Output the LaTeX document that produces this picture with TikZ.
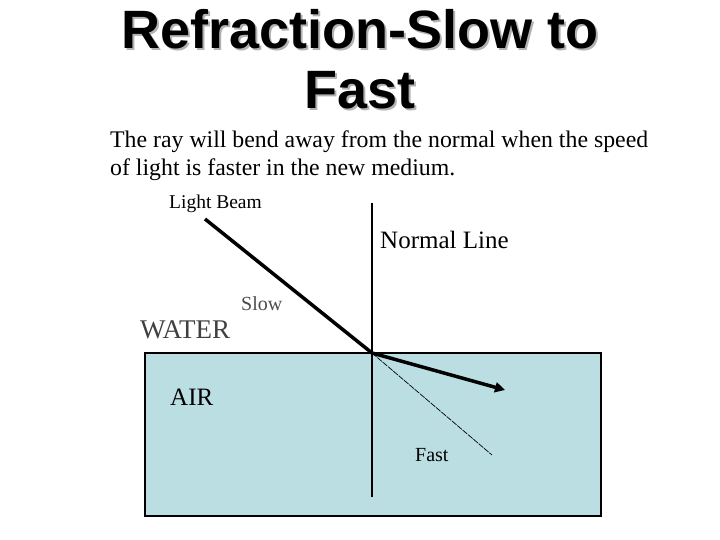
\documentclass[tikz,border=0pt]{standalone}
\usepackage{fontspec}
\setmainfont{Liberation Serif}
\newfontfamily\titlefont{Liberation Sans}
\usetikzlibrary{arrows.meta}
\definecolor{water}{RGB}{186,222,226}
\tikzset{lbl/.style={anchor=base west,inner sep=0pt,font=\fontsize{20}{24}\selectfont},
 big/.style={anchor=base west,inner sep=0pt,font=\fontsize{25}{30}\selectfont},
 ttl/.style={anchor=base,inner sep=0pt,font=\titlefont\bfseries\fontsize{54}{60}\selectfont}}
\begin{document}
\begin{tikzpicture}[x=1pt,y=-1pt]
\useasboundingbox (0,0) rectangle (720,540);
\draw[line width=1.5pt,fill=water] (145,353) rectangle (601,516);
\foreach \t/\yy/\n in {Refraction-Slow to/49/t1,Fast/109/t2}{
 \node[ttl,text=gray!60] at (362,\yy+2) {\t};
 \node[ttl] (\n) at (360,\yy) {\t};}
\node[anchor=base west,inner sep=0pt,font=\fontsize{23.8}{28}\selectfont,align=left] (body) at (110,176) {The ray will bend away from the normal when the speed\\of light is faster in the new medium.};
\node[lbl,font=\fontsize{19.5}{24}\selectfont] (lb) at (169,209) {Light Beam};
\node[big] (nl) at (380,248) {Normal Line};
\node[lbl,text=black!70] (slow) at (241,310) {Slow};
\node[big,font=\fontsize{27}{30}\selectfont,text=black!75] (wat) at (140,338) {WATER};
\node[big] (air) at (170,405) {AIR};
\node[lbl] (fast) at (415,461) {Fast};
\coordinate (top) at (372,203);
\coordinate (bot) at (372,497);
\coordinate (src) at (205,219);
\coordinate (o) at (372,353);
\coordinate (ref) at (505,390);
\coordinate (ext) at (492,455);
\draw[line width=1.5pt] (top) -- (bot);
\draw[line width=3.5pt] (src) -- (o);
\draw[line width=3.5pt,-{Triangle[length=10pt,width=10pt]}] (o) -- (ref);
\draw[line width=0.7pt,dash pattern=on 6pt off 1pt] (o) -- (ext);
\end{tikzpicture}
\end{document}
